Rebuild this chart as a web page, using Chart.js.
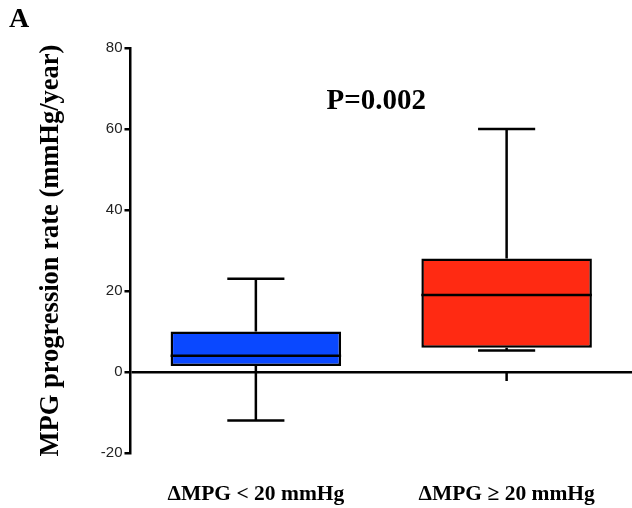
<!DOCTYPE html>
<html>
<head>
<meta charset="utf-8">
<script src="https://cdn.jsdelivr.net/npm/chart.js@4.4.1/dist/chart.umd.min.js"></script>
<style>
html,body{margin:0;padding:0;background:#fff;}
#wrap{width:632px;height:508px;position:relative;}
</style>
</head>
<body>
<div id="wrap"><canvas id="c" width="632" height="508"></canvas></div>
<script>
const categories = ["\u0394MPG < 20 mmHg", "\u0394MPG \u2265 20 mmHg"];
const whiskerMin = [-12, 5.3];
const q1 = [1.5, 6];
const median = [4, 19];
const q3 = [10, 28];
const whiskerMax = [23, 60];
const boxColors = ["#0a48ff", "#ff2a12"];
const yTicks = [-20, 0, 20, 40, 60, 80];
const panelLabel = "A";
const pValueText = "P=0.002";
const yTitle = "MPG progression rate (mmHg/year)";

const serif = "'Liberation Serif', 'Times New Roman', serif";
const sans = "'Liberation Sans', Arial, sans-serif";

const boxPlugin = {
  id: 'boxWhiskers',
  afterDatasetsDraw(chart) {
    const ctx = chart.ctx;
    const xs = chart.scales.x, ys = chart.scales.y;
    const meta = chart.getDatasetMeta(0);
    ctx.save();
    ctx.strokeStyle = '#000';
    ctx.lineWidth = 2.5;
    ctx.lineCap = 'butt';
    categories.forEach((c, i) => {
      const x = xs.getPixelForValue(i);
      const bw = meta.data[i].width;
      const cap = bw * 0.335;
      const yMin = ys.getPixelForValue(whiskerMin[i]);
      const yMax = ys.getPixelForValue(whiskerMax[i]);
      const yq1 = ys.getPixelForValue(q1[i]);
      const yq3 = ys.getPixelForValue(q3[i]);
      const ym = ys.getPixelForValue(median[i]);
      const y0 = ys.getPixelForValue(0);
      ctx.beginPath();
      ctx.moveTo(x, yq3); ctx.lineTo(x, yMax);
      ctx.moveTo(x - cap / 2, yMax); ctx.lineTo(x + cap / 2, yMax);
      ctx.moveTo(x, yq1); ctx.lineTo(x, yMin);
      ctx.moveTo(x - cap / 2, yMin); ctx.lineTo(x + cap / 2, yMin);
      ctx.moveTo(x - bw / 2, ym); ctx.lineTo(x + bw / 2, ym);
      ctx.moveTo(x, y0); ctx.lineTo(x, y0 + 9);
      ctx.stroke();
    });
    ctx.fillStyle = '#000';
    ctx.font = "bold 29px " + serif;
    ctx.textAlign = 'center';
    ctx.textBaseline = 'middle';
    const pm = (xs.getPixelForValue(0) + xs.getPixelForValue(1)) / 2 - 5;
    ctx.fillText(pValueText, pm, 102);
    ctx.font = "bold 28px " + serif;
    ctx.textAlign = 'left';
    ctx.fillText(panelLabel, 9, 20);
    ctx.restore();
  }
};

new Chart(document.getElementById('c'), {
  type: 'bar',
  data: {
    labels: categories,
    datasets: [{
      data: categories.map((c, i) => [q1[i], q3[i]]),
      backgroundColor: boxColors,
      borderColor: '#000',
      borderWidth: 2.5,
      borderSkipped: false,
      barPercentage: 0.68,
      categoryPercentage: 1.0
    }]
  },
  options: {
    responsive: false,
    animation: false,
    devicePixelRatio: 1,
    layout: { padding: { top: 48, left: 35, right: 0, bottom: 0 } },
    plugins: { legend: { display: false }, tooltip: { enabled: false } },
    scales: {
      x: {
        type: 'category',
        border: { display: false },
        grid: { display: false, drawTicks: false },
        afterFit: (s) => { s.height = 55; },
        ticks: {
          padding: 29,
          maxRotation: 0,
          minRotation: 0,
          autoSkip: false,
          color: '#000',
          font: { family: serif, size: 21.5, weight: 'bold' }
        }
      },
      y: {
        min: -20, max: 80,
        afterBuildTicks: (s) => { s.ticks = yTicks.map(v => ({ value: v })); },
        border: { display: true, color: '#000', width: 2.5 },
        grid: {
          drawOnChartArea: true,
          color: (ctx) => (ctx.tick && ctx.tick.value === 0) ? '#000' : 'rgba(0,0,0,0)',
          lineWidth: 2.5,
          tickColor: '#000',
          tickWidth: 2.5,
          tickLength: 6
        },
        ticks: {
          padding: 2,
          color: '#222',
          font: { family: sans, size: 15 }
        },
        title: {
          display: true,
          text: yTitle,
          color: '#000',
          font: { family: serif, size: 26.5, weight: 'bold' },
          padding: { top: 0, bottom: 32 }
        }
      }
    }
  },
  plugins: [boxPlugin]
});
</script>
</body>
</html>
